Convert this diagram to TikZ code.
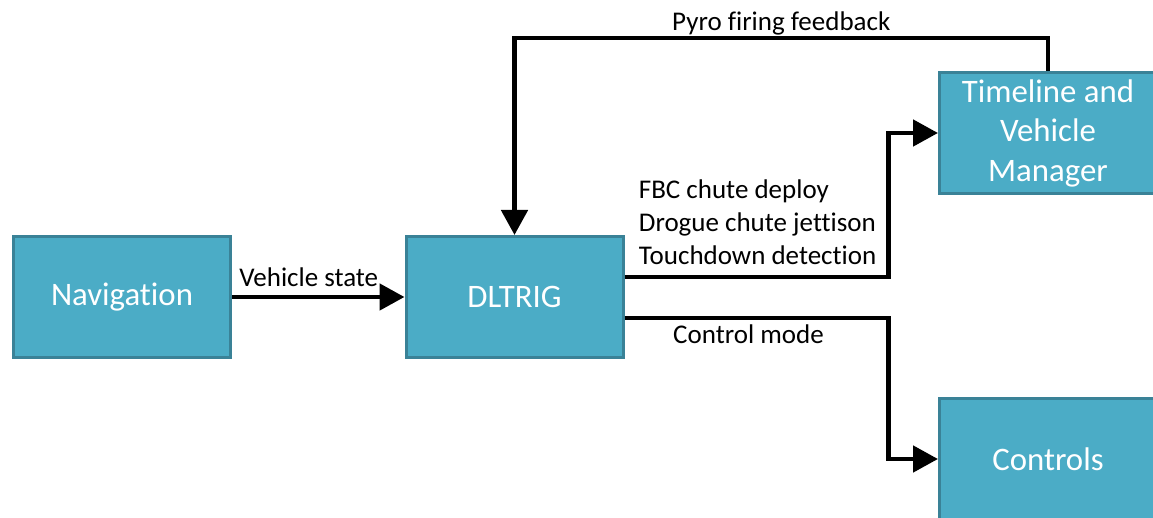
\documentclass[tikz,border=0pt]{standalone}
\usepackage{fontspec}
\setmainfont{Carlito}[Ligatures=NoCommon]
\usetikzlibrary{arrows.meta,positioning}
\definecolor{boxfill}{HTML}{4BACC6}
\definecolor{boxline}{HTML}{3A8297}
\tikzset{
	block/.style={draw=boxline,fill=boxfill,line width=1.5pt,text=white,
		minimum width=108.5pt,minimum height=60.5pt,inner sep=0pt,align=center,
		font=\fontsize{16.4}{19.75}\selectfont},
	conn/.style={line width=2.4pt,-{Triangle[length=12.5pt,width=13pt]}},
	lbl/.style={inner sep=0pt,font=\fontsize{13.5}{16.5}\selectfont}
}
\begin{document}
\begin{tikzpicture}[x=0.5pt,y=-0.5pt]
	\useasboundingbox (0,0) rectangle (1153,518);
	\node[block] (nav) at (122,297) {Navigation};
	\node[block] (dltrig) at (514.5,297) {DLTRIG};
	\node[block] (tvm) at (1048,133) {Timeline and\\Vehicle\\Manager};
	\node[block] (ctrl) at (1048,459) {Controls};
	\draw[conn] (nav.east) node[lbl,anchor=base west,xshift=2.5pt,yshift=5pt]{Vehicle state} -- (dltrig.west);
	\draw[conn] ([yshift=10pt]dltrig.east)%
		node[lbl,anchor=south west,align=left,xshift=6pt,yshift=5pt]{FBC chute deploy\\Drogue chute jettison\\Touchdown detection}%
		-- ++(264,0) |- (tvm.west);
	\draw[conn] ([yshift=-10.5pt]dltrig.east) -- ++(264,0)%
		node[lbl,midway,anchor=base,xshift=-4pt,yshift=-13pt]{Control mode} |- (ctrl.west);
	\draw[conn] (tvm.north) -- ++(0,-33) -| node[lbl,pos=0.25,anchor=base,yshift=3.5pt]{Pyro firing feedback} (dltrig.north);
\end{tikzpicture}
\end{document}
